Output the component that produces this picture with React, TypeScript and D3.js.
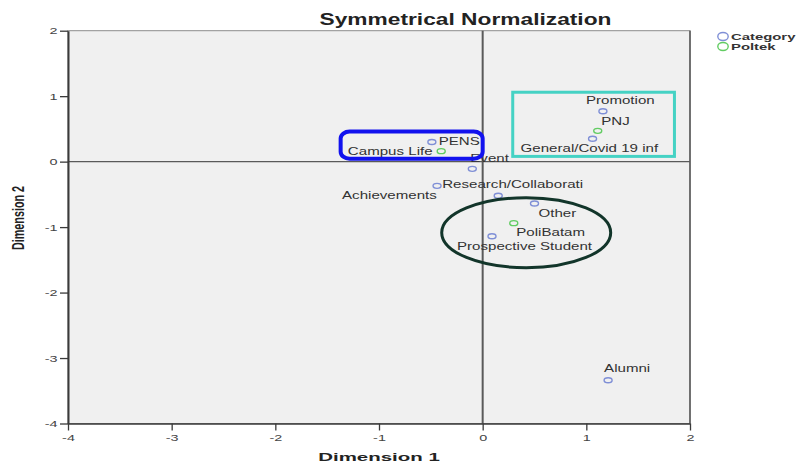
import React, { useRef, useEffect } from 'react';
import * as d3 from 'd3';

// ---- data ----
const categoryNames = [
  'Promotion',
  'General/Covid 19 inf',
  'Campus Life',
  'Event',
  'Achievements',
  'Research/Collaborati',
  'Other',
  'Prospective Student',
  'Alumni',
];
const categoryDim1 = [1.16, 1.06, -0.49, -0.10, -0.44, 0.15, 0.50, 0.09, 1.21];
const categoryDim2 = [0.77, 0.35, 0.30, -0.11, -0.37, -0.52, -0.64, -1.14, -3.34];

const poltekNames = ['PENS', 'PNJ', 'PoliBatam'];
const poltekDim1 = [-0.40, 1.11, 0.30];
const poltekDim2 = [0.16, 0.47, -0.94];

const xTicks = [-4, -3, -2, -1, 0, 1, 2];
const yTicks = [-4, -3, -2, -1, 0, 1, 2];

// label placement: px from the marker to text start / text middle
const labelOffsets: Record<string, [number, number]> = {
  'Promotion': [-17, -11],
  'General/Covid 19 inf': [-72, 10],
  'Campus Life': [-84, 9.5],
  'Event': [-2, -10.5],
  'Achievements': [-95, 10],
  'Research/Collaborati': [-56, -11],
  'Other': [4, 9.5],
  'Prospective Student': [-35, 9.7],
  'Alumni': [-4, -11.5],
  'PENS': [-2.5, -10],
  'PNJ': [3.5, -9.5],
  'PoliBatam': [2.5, 9.5],
};

// hand-drawn highlight shapes, in data units
const pensBox = { x0: -1.37, x1: 0.0, y0: 0.46, y1: 0.045 };
const pnjBox = { x0: 0.29, x1: 1.85, y0: 1.06, y1: 0.08 };
const batamEllipse = { cx: 0.42, cy: -1.085, rx: 0.815, ry: 0.535 };

interface Pt { name: string; d1: number; d2: number; group: 'cat' | 'pol'; }

const FONT = '"Liberation Sans", Arial, sans-serif';
const BLUE = '#7f8fd6';
const GREEN = '#62cc62';

const App: React.FC = () => {
  const svgRef = useRef<SVGSVGElement | null>(null);
  const W = 798;
  const H = 464;

  useEffect(() => {
    if (!svgRef.current) return;
    const svg = d3.select(svgRef.current);
    svg.selectAll('*').remove();

    const plot = { left: 68, right: 690, top: 30.7, bottom: 423.5 };

    const x = d3.scaleLinear().domain([-4, 2]).range([plot.left, plot.right]);
    const y = d3.scaleLinear().domain([-4, 2]).range([plot.bottom, plot.top]);

    // text stretched horizontally like the source image
    const addText = (
      g: d3.Selection<any, unknown, null, undefined>,
      tx: number, ty: number, str: string,
      size: number, sx: number, anchor = 'start', weight = 'normal', fill = '#333'
    ) =>
      g.append('text')
        .attr('transform', `translate(${tx},${ty}) scale(${sx},1)`)
        .attr('dy', '0.35em')
        .attr('text-anchor', anchor)
        .style('font-family', FONT)
        .style('font-size', `${size}px`)
        .style('font-weight', weight)
        .attr('fill', fill)
        .text(str);

    // plot background
    svg.append('rect')
      .attr('x', plot.left).attr('y', plot.top)
      .attr('width', plot.right - plot.left).attr('height', plot.bottom - plot.top)
      .attr('fill', '#f0f0f0')
      .attr('stroke', '#8c8c8c').attr('stroke-width', 1);

    svg.append('line')
      .attr('x1', plot.right).attr('x2', plot.right)
      .attr('y1', plot.top).attr('y2', plot.bottom)
      .attr('stroke', '#555').attr('stroke-width', 1.5);

    // reference lines at 0
    svg.append('line')
      .attr('x1', x(0)).attr('x2', x(0)).attr('y1', plot.top).attr('y2', plot.bottom)
      .attr('stroke', '#5a5a5a').attr('stroke-width', 2);
    svg.append('line')
      .attr('x1', plot.left).attr('x2', plot.right).attr('y1', y(0)).attr('y2', y(0))
      .attr('stroke', '#5a5a5a').attr('stroke-width', 1.2);

    // axes
    const fmt = (d: d3.NumberValue) => String(d);
    const xAxis = svg.append('g')
      .attr('transform', `translate(0,${plot.bottom})`)
      .call(d3.axisBottom(x).tickValues(xTicks).tickSize(7).tickSizeOuter(0).tickFormat(fmt));
    xAxis.select('.domain').attr('stroke', '#3a3a3a').attr('stroke-width', 1.6);
    xAxis.selectAll('.tick line').attr('stroke', '#3a3a3a').attr('stroke-width', 1.3);
    xAxis.selectAll('.tick text')
      .attr('y', 14.2).attr('dy', '0.35em')
      .attr('transform', 'scale(1.6,1)')
      .style('font-family', FONT).style('font-size', '9px').attr('fill', '#444');

    const yAxis = svg.append('g')
      .attr('transform', `translate(${plot.left},0)`)
      .call(d3.axisLeft(y).tickValues(yTicks).tickSize(8).tickSizeOuter(0).tickFormat(fmt));
    yAxis.select('.domain').attr('stroke', '#3a3a3a').attr('stroke-width', 2);
    yAxis.selectAll('.tick line').attr('stroke', '#3a3a3a').attr('stroke-width', 1.3);
    yAxis.selectAll('.tick text')
      .attr('x', -10.5 / 1.6).attr('dy', '0.35em')
      .attr('transform', 'scale(1.6,1)')
      .style('font-family', FONT).style('font-size', '9px').attr('fill', '#444');

    // points
    const pts: Pt[] = [
      ...categoryNames.map((n, i) => ({ name: n, d1: categoryDim1[i], d2: categoryDim2[i], group: 'cat' as const })),
      ...poltekNames.map((n, i) => ({ name: n, d1: poltekDim1[i], d2: poltekDim2[i], group: 'pol' as const })),
    ];

    const labels = svg.append('g');
    pts.forEach(p => {
      const [dx, dy] = labelOffsets[p.name] || [4, -10];
      addText(labels, x(p.d1) + dx, y(p.d2) + dy, p.name, 10.2, 1.48, 'start', 'normal', '#333');
    });

    svg.append('g').selectAll('ellipse')
      .data(pts)
      .enter().append('ellipse')
      .attr('cx', d => x(d.d1))
      .attr('cy', d => y(d.d2))
      .attr('rx', 4)
      .attr('ry', 2.5)
      .attr('fill', 'none')
      .attr('stroke', d => (d.group === 'cat' ? BLUE : GREEN))
      .attr('stroke-width', 1.4);

    // titles
    addText(svg, 465.5, 19.5, 'Symmetrical Normalization', 15.8, 1.44, 'middle', 'bold', '#222');
    addText(svg, 379, 456.7, 'Dimension 1', 11.5, 1.78, 'middle', 'bold', '#222');
    svg.append('text')
      .attr('transform', `translate(18,218) scale(1.6,1) rotate(-90)`)
      .attr('dy', '0.35em')
      .attr('text-anchor', 'middle')
      .style('font-family', FONT).style('font-size', '10.8px').style('font-weight', 'bold')
      .attr('fill', '#222')
      .text('Dimension 2');

    // legend
    const legend = svg.append('g');
    [['Category', BLUE], ['Poltek', GREEN]].forEach(([name, col], i) => {
      legend.append('ellipse')
        .attr('cx', 723).attr('cy', 36.5 + i * 10)
        .attr('rx', 5.2).attr('ry', 4)
        .attr('fill', 'none').attr('stroke', col).attr('stroke-width', 1.4);
      addText(legend, 731, 36.5 + i * 10, name, 9.3, 1.6, 'start', 'bold', '#333');
    });

    // highlight annotations
    svg.append('rect')
      .attr('x', x(pensBox.x0)).attr('y', y(pensBox.y0))
      .attr('width', x(pensBox.x1) - x(pensBox.x0))
      .attr('height', y(pensBox.y1) - y(pensBox.y0))
      .attr('rx', 9).attr('ry', 7)
      .attr('fill', 'none').attr('stroke', '#1212ee').attr('stroke-width', 4);

    svg.append('rect')
      .attr('x', x(pnjBox.x0)).attr('y', y(pnjBox.y0))
      .attr('width', x(pnjBox.x1) - x(pnjBox.x0))
      .attr('height', y(pnjBox.y1) - y(pnjBox.y0))
      .attr('fill', 'none').attr('stroke', '#45d2c4').attr('stroke-width', 3);

    svg.append('ellipse')
      .attr('cx', x(batamEllipse.cx)).attr('cy', y(batamEllipse.cy))
      .attr('rx', x(batamEllipse.rx) - x(0))
      .attr('ry', y(0) - y(batamEllipse.ry))
      .attr('fill', 'none').attr('stroke', '#12352a').attr('stroke-width', 3);
  }, []);

  return (
    <svg
      ref={svgRef}
      width={W}
      height={H}
      style={{ position: 'absolute', left: 0, top: 0, background: '#fff' }}
    />
  );
};

export default App;
